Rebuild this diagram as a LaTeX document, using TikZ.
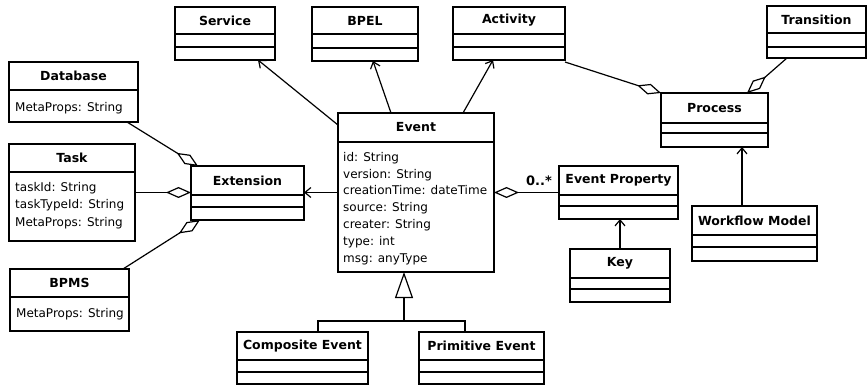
\documentclass[tikz,border=0pt]{standalone}
\usepackage{fontspec}
\setmainfont{DejaVu Sans}
\usetikzlibrary{arrows.meta,fit,calc}

% class box: name, x1, y1, x2, y2, header divider y, title
\newcommand\umlclass[7]{%
  \node[clsbox, fit={(#2,#3) (#4,#5)}] (#1) {};
  \node[clstitle] (#1-t) at ({(#2+#4)/2},{(#3+#6)/2}) {#7};
  \draw[clsline] (#2,#6) -- (#4,#6);
}
% extra compartment divider: x1, x2, y
\newcommand\umlsep[3]{\draw[clsline] (#1,#3) -- (#2,#3);}

\tikzset{
  clsbox/.style={draw, line width=1.2pt, inner sep=0pt, outer sep=0pt, fill=white},
  clsline/.style={line width=1.1pt},
  clstitle/.style={inner sep=0pt, font=\fontsize{12.5}{15}\selectfont\bfseries},
  attrs/.style={inner sep=0pt, anchor=north west, align=left, font=\fontsize{12}{16.8}\selectfont},
  conn/.style={line width=1.2pt},
  navarrow/.style={conn, -{Straight Barb[length=6pt, width=10pt, line width=1.2pt]}},
  aggr/.style={conn, -{Diamond[open, fill=white, length=25pt, width=11pt, line width=1.2pt]}},
  genarrow/.style={conn, -{Triangle[open, fill=white, length=26pt, width=18pt, line width=1.2pt]}},
}

\begin{document}
\begin{tikzpicture}[x=1pt, y=-1pt]
\useasboundingbox (0,0) rectangle (868,385);

% top row
\umlclass{svc}{175}{7}{275}{60}{34}{Service}
\umlsep{175}{275}{47}
\umlclass{bpel}{312}{7}{418}{61}{34}{BPEL}
\umlsep{312}{418}{48}
\umlclass{act}{453}{7}{565}{60}{34}{Activity}
\umlsep{453}{565}{47}
\umlclass{trans}{767}{6}{866}{58}{33}{Transition}
\umlsep{767}{866}{47}

% extension side
\umlclass{db}{9}{62}{138}{122}{90}{Database}
\node[attrs] (db-a) at (15,102) {MetaProps: String};
\umlclass{task}{9}{144}{135}{241}{172}{Task}
\node[attrs, font=\fontsize{12}{17.5}\selectfont] (task-a) at (15,182) {taskId: String\\taskTypeId: String\\MetaProps: String};
\umlclass{bpms}{10}{269}{129}{331}{297}{BPMS}
\node[attrs] (bpms-a) at (16,308) {MetaProps: String};
\umlclass{ext}{191}{166}{304}{220}{195}{Extension}
\umlsep{191}{304}{207}

% central event class
\umlclass{ev}{338}{113}{494}{272}{142}{Event}
\node[attrs] (ev-a) at (343,152) {id: String\\version: String\\creationTime: dateTime\\source: String\\creater: String\\type: int\\msg: anyType};

% subclasses
\umlclass{ce}{237}{332}{368}{384}{360}{Composite Event}
\umlsep{237}{368}{372}
\umlclass{pe}{419}{332}{544}{384}{360}{Primitive Event}
\umlsep{419}{544}{372}

% properties and process side
\umlclass{ep}{559}{166}{678}{219}{195}{Event Property}
\umlsep{559}{678}{206}
\umlclass{key}{570}{249}{670}{302}{278}{Key}
\umlsep{570}{670}{289}
\umlclass{proc}{661}{93}{768}{147}{123}{Process}
\umlsep{661}{768}{133}
\umlclass{wm}{692}{206}{817}{261}{235}{Workflow Model}
\umlsep{692}{817}{247}

% navigable associations
\draw[navarrow] ([yshift=-12pt]ev.north west) -- ([xshift=33pt]svc.south);
\draw[navarrow] ([xshift=-25pt]ev.north) -- ([xshift=8pt]bpel.south);
\draw[navarrow] ([xshift=47pt]ev.north) -- ([xshift=-16pt]act.south);
\draw[navarrow] (ev.west) -- (ev.west -| ext.east);
\draw[navarrow] (key.north) -- (key.north |- ep.south);
\draw[navarrow] ([xshift=-12.5pt]wm.north) -- ([xshift=-12.5pt]wm.north |- proc.south);

% aggregations
\draw[aggr] (ep.west) -- (ev.east);
\node[font=\fontsize{13}{15}\selectfont\bfseries, inner sep=0pt] (mult) at (539,181) {0..*};
\draw[aggr] ([yshift=-2pt]act.south east) -- (proc.north west);
\draw[aggr] ([xshift=-29.5pt]trans.south) -- ([xshift=32.5pt]proc.north);
\draw[aggr] ([xshift=-11pt]db.south east) -- ([xshift=7pt]ext.north west);
\draw[aggr] (task.east) -- (task.east -| ext.west);
\draw[aggr] ([xshift=-6pt]bpms.north east) -- ([xshift=9pt]ext.south west);

% generalization
\coordinate (gj) at ($(ev.south)+(-12pt,-49pt)$);
\draw[conn] ([xshift=15.5pt]ce.north) |- (gj) -| ([xshift=-16.5pt]pe.north);
\draw[genarrow] (gj) -- ([xshift=-12pt]ev.south);
\end{tikzpicture}
\end{document}
